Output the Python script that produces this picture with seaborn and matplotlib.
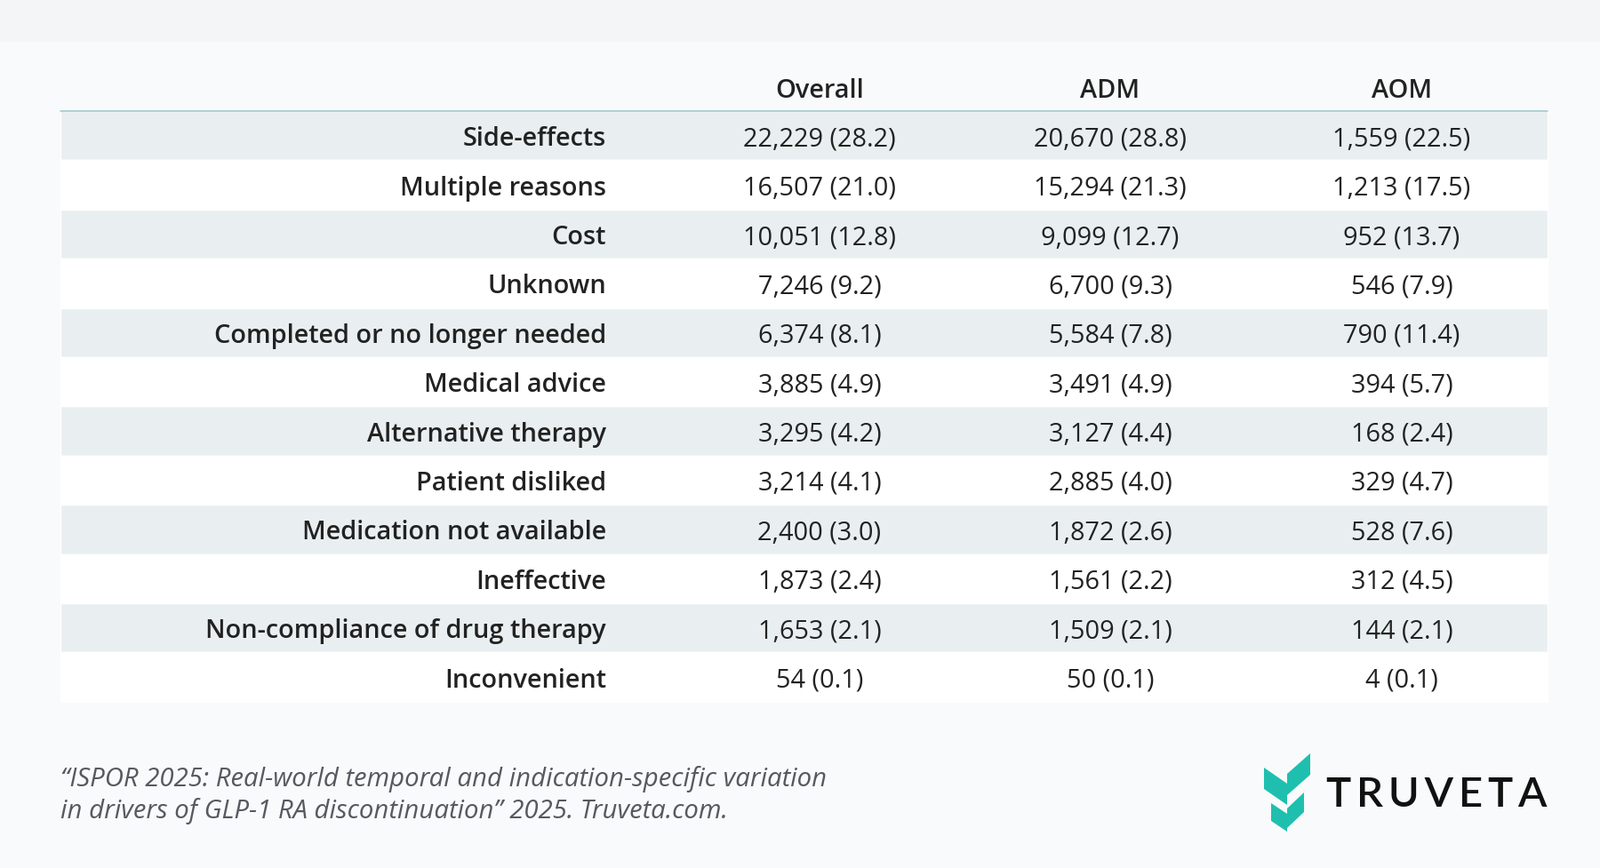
import matplotlib
matplotlib.use("Agg")
import matplotlib.pyplot as plt
import seaborn as sns

sns.set_theme(style="white")
plt.rcParams["font.family"] = "Open Sans"

columns = ["Overall", "ADM", "AOM"]
reasons = ["Side-effects", "Multiple reasons", "Cost", "Unknown",
           "Completed or no longer needed", "Medical advice", "Alternative therapy",
           "Patient disliked", "Medication not available", "Ineffective",
           "Non-compliance of drug therapy", "Inconvenient"]
overall = ["22,229 (28.2)", "16,507 (21.0)", "10,051 (12.8)", "7,246 (9.2)", "6,374 (8.1)",
           "3,885 (4.9)", "3,295 (4.2)", "3,214 (4.1)", "2,400 (3.0)", "1,873 (2.4)",
           "1,653 (2.1)", "54 (0.1)"]
adm = ["20,670 (28.8)", "15,294 (21.3)", "9,099 (12.7)", "6,700 (9.3)", "5,584 (7.8)",
       "3,491 (4.9)", "3,127 (4.4)", "2,885 (4.0)", "1,872 (2.6)", "1,561 (2.2)",
       "1,509 (2.1)", "50 (0.1)"]
aom = ["1,559 (22.5)", "1,213 (17.5)", "952 (13.7)", "546 (7.9)", "790 (11.4)",
       "394 (5.7)", "168 (2.4)", "329 (4.7)", "528 (7.6)", "312 (4.5)",
       "144 (2.1)", "4 (0.1)"]

W, H = 1800, 978
fig = plt.figure(figsize=(18, 9.78), dpi=100)
fig.patch.set_facecolor("#f4f5f7")
ax = fig.add_axes([0, 0, 1, 1])
ax.set_xlim(0, W)
ax.set_ylim(H, 0)
ax.axis("off")

ax.add_patch(plt.Rectangle((0, 48), W, H - 48, color="#f9fafb", zorder=0))

left, right = 68, 1741
top, rh = 126, 55.4
n = len(reasons)
ys = [top + rh * (i + 0.5) for i in range(n)]
colors = ["#e9eff0" if i % 2 == 0 else "#ffffff" for i in range(n)]
ax.barh(ys, [right - left] * n, left=left, height=rh, color=colors, zorder=1)
ax.plot([left, right], [top, top], color="#9fc9cc", lw=1.2, zorder=2)

label_x = 682
col_x = [922, 1249, 1577]
fs = 20.8
dy = 3
for cx, c in zip(col_x, columns):
    ax.text(cx, 100 + dy, c, ha="center", va="center", fontsize=fs, fontweight="semibold", color="#222222")
for y, r, vals in zip(ys, reasons, zip(overall, adm, aom)):
    ax.text(label_x, y + dy, r, ha="right", va="center", fontsize=fs, fontweight="semibold", color="#222222", zorder=3)
    for cx, v in zip(col_x, vals):
        ax.text(cx, y + dy, v, ha="center", va="center", fontsize=fs, color="#222222", zorder=3)

ax.text(68, 877, "\u201cISPOR 2025: Real-world temporal and indication-specific variation",
        ha="left", va="center", fontsize=21.2, style="italic", color="#555a60")
ax.text(68, 913, "in drivers of GLP-1 RA discontinuation\u201d 2025. Truveta.com.",
        ha="left", va="center", fontsize=21.2, style="italic", color="#555a60")

teal = "#1fbfb0"
polys = [
    [(1422, 865), (1448, 883), (1448, 907), (1422, 889)],
    [(1448, 872), (1474, 849), (1474, 873), (1448, 896)],
    [(1430, 905), (1448, 917), (1448, 937), (1430, 925)],
    [(1448, 911), (1467, 893), (1467, 915), (1448, 933)],
]
for p in polys:
    ax.fill([q[0] for q in p], [q[1] for q in p], color=teal, lw=0, zorder=3)
ax.text(1492, 895, "T\u2009R\u2009U\u2009V\u2009E\u2009T\u2009A", ha="left", va="center", fontsize=34,
        fontweight="semibold", color="#111111", fontfamily="Lato")

fig.savefig("out.png", dpi=100, facecolor=fig.get_facecolor())
